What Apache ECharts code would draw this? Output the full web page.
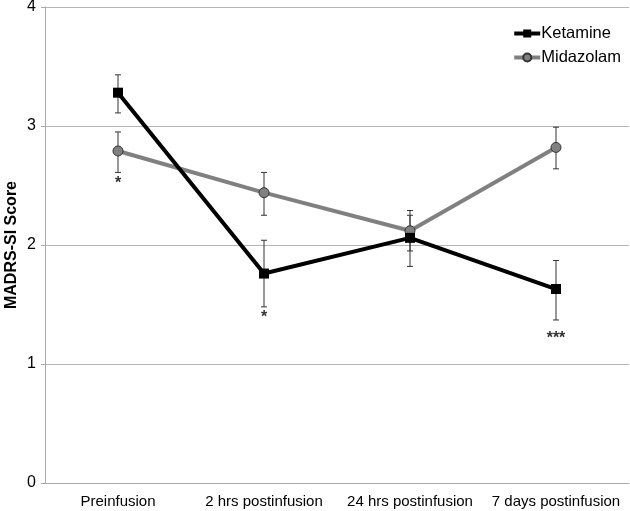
<!DOCTYPE html>
<html><head><meta charset="utf-8">
<script src="https://cdn.jsdelivr.net/npm/echarts@6/dist/echarts.min.js"></script>
<style>html,body{margin:0;padding:0;background:#fff}#c{width:630px;height:511px}</style>
</head><body><div id="c"></div>
<script>
const categories = ['Preinfusion', '2 hrs postinfusion', '24 hrs postinfusion', '7 days postinfusion'];
const ketamine = [3.28, 1.76, 2.06, 1.63];
const ketamineLow = [3.11, 1.48, 1.82, 1.37];
const ketamineHigh = [3.43, 2.04, 2.25, 1.87];
const midazolam = [2.79, 2.44, 2.12, 2.82];
const midazolamLow = [2.61, 2.25, 1.95, 2.64];
const midazolamHigh = [2.95, 2.61, 2.29, 2.99];
const yTicks = [0, 1, 2, 3, 4];
const asterisks = [[0, 2.52, '*'], [1, 1.39, '*'], [3, 1.21, '***']];

function errData(low, high) { return low.map((l, i) => [i, l, high[i]]); }
function errRender(params, api) {
  const x = api.value(0);
  const lo = api.coord([x, api.value(1)]);
  const hi = api.coord([x, api.value(2)]);
  const w = 3;
  const st = { stroke: '#333', lineWidth: 1 };
  return { type: 'group', children: [
    { type: 'line', shape: { x1: lo[0], y1: lo[1], x2: hi[0], y2: hi[1] }, style: st },
    { type: 'line', shape: { x1: lo[0] - w, y1: lo[1], x2: lo[0] + w, y2: lo[1] }, style: st },
    { type: 'line', shape: { x1: hi[0] - w, y1: hi[1], x2: hi[0] + w, y2: hi[1] }, style: st }
  ]};
}
function starRender(params, api) {
  const p = api.coord([api.value(0), api.value(1)]);
  return { type: 'text', x: p[0], y: p[1],
    style: { text: asterisks[params.dataIndex][2], fontSize: 16, fontWeight: 'bold', fill: '#333',
      align: 'center', verticalAlign: 'middle', fontFamily: 'Liberation Sans, Arial, sans-serif' } };
}
const chart = echarts.init(document.getElementById('c'));
chart.setOption({
  animation: false,
  textStyle: { fontFamily: 'Liberation Sans, Arial, sans-serif' },
  grid: { left: 45, right: 1, top: 7, bottom: 28, containLabel: false, outerBoundsMode: 'none' },
  legend: {
    orient: 'vertical', right: 4, top: 20, itemGap: 7, itemWidth: 26, itemHeight: 10,
    textStyle: { fontSize: 16.5, color: '#000', padding: [0, 0, 0, -4] },
    lineStyle: { width: 4 },
    data: ['Ketamine', 'Midazolam']
  },
  xAxis: {
    type: 'category', data: categories, boundaryGap: true,
    axisLine: { lineStyle: { color: '#aaa' } },
    axisTick: { lineStyle: { color: '#aaa' }, length: 5 },
    axisLabel: { fontSize: 15, color: '#000', margin: 11, interval: 0 }
  },
  yAxis: {
    type: 'value', min: 0, max: 4, interval: 1,
    name: 'MADRS-SI Score', nameLocation: 'middle', nameGap: 25, nameMoveOverlap: false,
    nameTextStyle: { fontSize: 16, fontWeight: 'bold', color: '#000' },
    axisLine: { show: true, lineStyle: { color: '#aaa' } },
    axisTick: { show: true, length: 4, lineStyle: { color: '#aaa' } },
    axisLabel: { fontSize: 16, color: '#000', margin: 9, formatter: v => yTicks.includes(v) ? String(v) : '' },
    splitLine: { lineStyle: { color: '#b5b5b5' } }
  },
  series: [
    { type: 'custom', name: 'kerr', renderItem: errRender, data: errData(ketamineLow, ketamineHigh), z: 1, silent: true },
    { type: 'custom', name: 'merr', renderItem: errRender, data: errData(midazolamLow, midazolamHigh), z: 1, silent: true },
    { type: 'line', name: 'Midazolam', data: midazolam, z: 3,
      lineStyle: { color: '#808080', width: 4 },
      itemStyle: { color: '#808080', borderColor: '#333', borderWidth: 1 },
      symbol: 'circle', symbolSize: 10 },
    { type: 'line', name: 'Ketamine', data: ketamine, z: 4,
      lineStyle: { color: '#000', width: 4 },
      itemStyle: { color: '#000', borderColor: '#000', borderWidth: 0 },
      symbol: 'rect', symbolSize: 10 },
    { type: 'custom', name: 'sig', renderItem: starRender, silent: true, z: 5,
      data: asterisks.map(a => [a[0], a[1]]) }
  ]
});
</script></body></html>
